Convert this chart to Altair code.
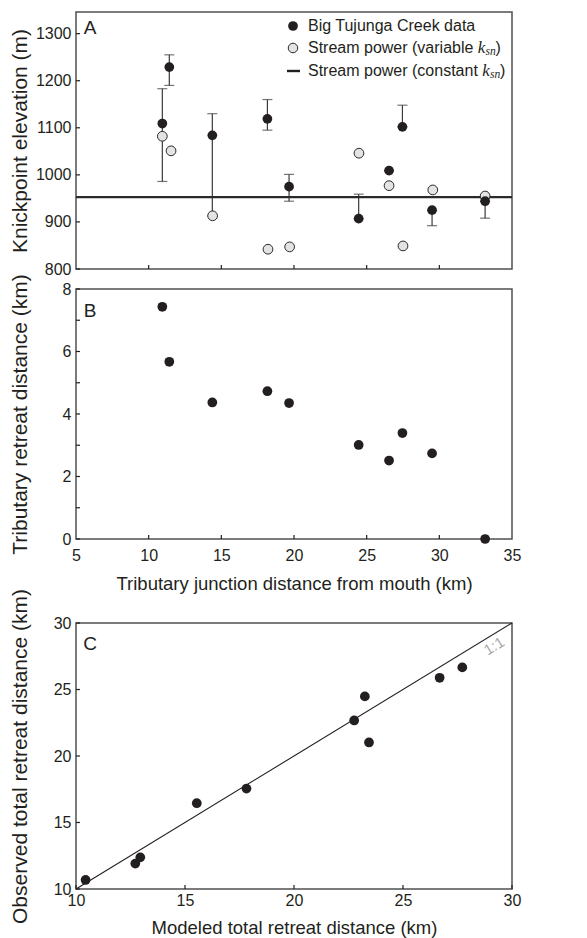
import altair as alt
import pandas as pd

# ---- data -------------------------------------------------------------
# Tributary junction distance from the mouth (km)
junction_km = [10.94, 11.42, 14.38, 18.17, 19.66, 24.45, 26.54, 27.46, 29.50, 33.15]
# Observed knickpoint elevations (m) with lower / upper bounds
obs_elev = [1109, 1229, 1084, 1119, 975, 907, 1009, 1102, 925, 944]
elev_lo = [986, 1190, 913, 1095, 944, 907, 1009, 1102, 892, 908]
elev_hi = [1183, 1255, 1130, 1160, 1001, 959, 1009, 1148, 925, 944]
# Stream-power predictions with variable k_sn
var_km = [10.94, 11.54, 14.40, 18.21, 19.70, 24.47, 26.54, 27.50, 29.55, 33.15]
var_elev = [1082, 1051, 913, 842, 847, 1046, 977, 849, 968, 955]
# Stream-power prediction with constant k_sn (m)
const_elev = [952.5]
# Tributary retreat distance (km)
retreat_km = [7.43, 5.67, 4.37, 4.73, 4.35, 3.01, 2.51, 3.39, 2.74, 0.0]
# Total retreat distance: modeled vs observed (km)
modeled_total = [10.44, 12.72, 12.95, 15.54, 17.82, 22.76, 23.25, 23.44, 26.68, 27.72]
observed_total = [10.68, 11.91, 12.38, 16.45, 17.55, 22.67, 24.48, 21.02, 25.88, 26.66]
one_to_one = [10, 30]

# axis ticks
elev_ticks = [800, 900, 1000, 1100, 1200, 1300]
dist_ticks = [5, 10, 15, 20, 25, 30, 35]
dist_inner_ticks = [10, 15, 20, 25, 30]
retreat_labels = [0, 2, 4, 6, 8]
retreat_ticks = [0, 1, 2, 3, 4, 5, 6, 7, 8]
total_ticks = [10, 15, 20, 25, 30]

# ---- styling ---------------------------------------------------------
INK = "#231f20"
FONT = "Liberation Sans"
SERIF = "Liberation Serif"
W = 436
HA, HB, HC = 257, 250, 266
TICK = 4

dfA = pd.DataFrame({"km": junction_km, "elev": obs_elev, "lo": elev_lo, "hi": elev_hi})
dfV = pd.DataFrame({"km": var_km, "elev": var_elev})
dfK = pd.DataFrame({"elev": const_elev})
dfB = pd.DataFrame({"km": junction_km, "retreat": retreat_km})
dfC = pd.DataFrame({"modeled": modeled_total, "observed": observed_total})
df11 = pd.DataFrame({"v": one_to_one})


def one_row():
    return pd.DataFrame({"k": [0]})


def y_axis(title, values):
    return alt.Axis(title=title, values=values, format="d", titleX=-56,
                    titleBaseline="middle", titleFontSize=21, labelPadding=5)


def x_ticks_inward(field, values, scale, height):
    return alt.Chart(pd.DataFrame({field: values})).mark_rule(
        color=INK, strokeWidth=1.2).encode(
        x=alt.X(f"{field}:Q", scale=scale),
        y=alt.value(height), y2=alt.value(height - TICK))


def y_ticks_inward(field, values, scale):
    return alt.Chart(pd.DataFrame({field: values})).mark_rule(
        color=INK, strokeWidth=1.2).encode(
        y=alt.Y(f"{field}:Q", scale=scale),
        x=alt.value(0), x2=alt.value(TICK))


def panel_letter(letter, y):
    return alt.Chart(one_row()).mark_text(
        text=letter, font=FONT, fontSize=19, color=INK, align="center",
        baseline="middle").encode(x=alt.value(14), y=alt.value(y))


# ---- panel A: knickpoint elevations ----------------------------------
xA = alt.Scale(domain=[5, 35], nice=False, zero=False)
yA = alt.Scale(domain=[800, 1346], nice=False, zero=False)

bars = alt.Chart(dfA).mark_rule(color="#3a3a3a", strokeWidth=1.2).encode(
    x=alt.X("km:Q", scale=xA, axis=None),
    y=alt.Y("lo:Q", scale=yA, axis=y_axis("Knickpoint elevation (m)", elev_ticks)),
    y2="hi:Q")
cap_lo = alt.Chart(dfA).mark_tick(orient="horizontal", size=10, thickness=1.2,
                                  color="#3a3a3a").encode(
    x=alt.X("km:Q", scale=xA), y=alt.Y("lo:Q", scale=yA))
cap_hi = alt.Chart(dfA).mark_tick(orient="horizontal", size=10, thickness=1.2,
                                  color="#3a3a3a").encode(
    x=alt.X("km:Q", scale=xA), y=alt.Y("hi:Q", scale=yA))
const_line = alt.Chart(dfK).mark_rule(color="#2a2a2a", strokeWidth=2.2).encode(
    y=alt.Y("elev:Q", scale=yA))
var_pts = alt.Chart(dfV).mark_point(filled=True, size=95, fill="#e2e3e5",
                                    stroke="#2a2a2a", strokeWidth=1,
                                    opacity=1).encode(
    x=alt.X("km:Q", scale=xA), y=alt.Y("elev:Q", scale=yA))
obs_pts = alt.Chart(dfA).mark_point(filled=True, size=95, color=INK,
                                    opacity=1).encode(
    x=alt.X("km:Q", scale=xA), y=alt.Y("elev:Q", scale=yA))

# legend drawn inside panel A
LX = 232
leg = [
    alt.Chart(one_row()).mark_point(filled=True, size=95, color=INK, opacity=1)
    .encode(x=alt.value(217), y=alt.value(14)),
    alt.Chart(one_row()).mark_point(filled=True, size=90, fill="#e2e3e5",
                                    stroke="#2a2a2a", strokeWidth=1, opacity=1)
    .encode(x=alt.value(217), y=alt.value(36)),
    alt.Chart(one_row()).mark_rule(color=INK, strokeWidth=2.4)
    .encode(x=alt.value(211), x2=alt.value(224), y=alt.value(59)),
]
rows = [("Big Tujunga Creek data", 14, None),
        ("Stream power (variable ", 36, 169.8),
        ("Stream power (constant ", 59, 174.3)]
for txt, yy, w in rows:
    leg.append(alt.Chart(one_row()).mark_text(
        text=txt, font=FONT, fontSize=16, color=INK, align="left",
        baseline="middle").encode(x=alt.value(LX), y=alt.value(yy)))
    if w is not None:
        kx = LX + w
        leg.append(alt.Chart(one_row()).mark_text(
            text="k", font=SERIF, fontStyle="italic", fontSize=17, color=INK,
            align="left", baseline="middle").encode(x=alt.value(kx), y=alt.value(yy)))
        leg.append(alt.Chart(one_row()).mark_text(
            text="sn", font=SERIF, fontStyle="italic", fontSize=11.5, color=INK,
            align="left", baseline="middle").encode(x=alt.value(kx + 7.6), y=alt.value(yy + 4)))
        leg.append(alt.Chart(one_row()).mark_text(
            text=")", font=FONT, fontSize=16, color=INK,
            align="left", baseline="middle").encode(x=alt.value(kx + 17.6), y=alt.value(yy)))

panelA = alt.layer(
    bars, cap_lo, cap_hi, const_line, var_pts, obs_pts,
    x_ticks_inward("km", dist_inner_ticks, xA, HA),
    y_ticks_inward("elev", elev_ticks, yA),
    panel_letter("A", 16), *leg
).properties(width=W, height=HA)

# ---- panel B: tributary retreat distance ----------------------------
xB = alt.Scale(domain=[5, 35], nice=False, zero=False)
yB = alt.Scale(domain=[0, 8], nice=False)
ptsB = alt.Chart(dfB).mark_point(filled=True, size=95, color=INK, opacity=1).encode(
    x=alt.X("km:Q", scale=xB,
            axis=alt.Axis(title="Tributary junction distance from mouth (km)",
                          values=dist_ticks, format="d", labelPadding=8, titleY=44,
                          titleBaseline="middle", titleFontSize=18.5)),
    y=alt.Y("retreat:Q", scale=yB,
            axis=y_axis("Tributary retreat distance (km)", retreat_labels)))
panelB = alt.layer(
    ptsB,
    x_ticks_inward("km", dist_inner_ticks, xB, HB),
    y_ticks_inward("retreat", retreat_ticks, yB),
    panel_letter("B", 22),
).properties(width=W, height=HB)

# ---- spacer between B and C ------------------------------------------
spacer = alt.Chart(one_row()).mark_point(opacity=0).encode(
    x=alt.X("k:Q", axis=None), y=alt.Y("k:Q", axis=None)
).properties(width=W, height=44, view=alt.ViewBackground(strokeOpacity=0))

# ---- panel C: modeled vs observed total retreat ----------------------
sC = alt.Scale(domain=[10, 30], nice=False, zero=False)
line11 = alt.Chart(df11).mark_line(color=INK, strokeWidth=1.1).encode(
    x=alt.X("v:Q", scale=sC,
            axis=alt.Axis(title="Modeled total retreat distance (km)",
                          values=total_ticks, format="d", labelPadding=3, titleY=38,
                          titleBaseline="middle", titleFontSize=18.5)),
    y=alt.Y("v:Q", scale=sC,
            axis=y_axis("Observed total retreat distance (km)", total_ticks)))
ptsC = alt.Chart(dfC).mark_point(filled=True, size=95, color=INK, opacity=1).encode(
    x=alt.X("modeled:Q", scale=sC), y=alt.Y("observed:Q", scale=sC))
label11 = alt.Chart(one_row()).mark_text(
    text="1:1", font=FONT, fontSize=15, color="#a8a8a8", angle=328.6,
    align="center", baseline="middle").encode(x=alt.value(418), y=alt.value(23))
panelC = alt.layer(
    line11, ptsC,
    x_ticks_inward("v", total_ticks, sC, HC),
    y_ticks_inward("v", total_ticks, sC),
    label11,
    panel_letter("C", 21),
).properties(width=W, height=HC)

chart = alt.vconcat(panelA, panelB, spacer, panelC, spacing=20, bounds="flush").properties(
    padding={"left": 8, "top": 11, "right": 5, "bottom": 0}
).configure_axis(
    labelFont=FONT, labelFontSize=16, labelColor=INK,
    titleFont=FONT, titleFontWeight="normal", titleColor=INK,
    ticks=False, tickSize=0, domain=False, grid=False, labelFlush=False,
).configure_view(stroke="#505050", strokeWidth=1.5)

chart.save("out.html", embed_options={"renderer": "svg", "actions": False})
